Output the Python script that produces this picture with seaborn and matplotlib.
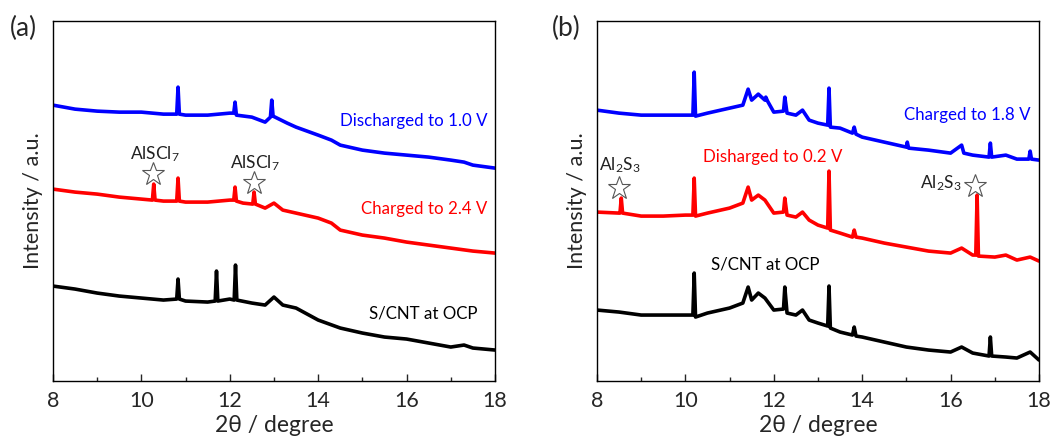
import numpy as np
import pandas as pd
import matplotlib
matplotlib.use("Agg")
import matplotlib.pyplot as plt
import seaborn as sns

sns.set_style("white")
plt.rcParams['font.family'] = ['Lato', 'DejaVu Sans']
plt.rcParams['mathtext.default'] = 'regular'

# ---------- Panel (a) ----------
a_blue_x = [8, 8.5, 9, 9.5, 10, 10.5, 10.8, 10.83, 10.86, 11, 11.5, 12, 12.09, 12.12, 12.15,
            12.5, 12.8, 12.92, 12.95, 12.98, 13.3, 13.5, 14, 14.3, 14.5, 15, 15.5, 16, 16.5, 17, 17.3, 17.5, 18]
a_blue_y = [276, 272, 270, 269, 269, 267, 267, 294, 267, 266, 266, 268, 268, 279, 266,
            264, 259, 264, 281, 265, 258, 254, 246, 241, 236, 231, 228, 226, 224, 221, 219, 216, 213]

a_red_x = [8, 8.5, 9, 9.5, 10, 10.25, 10.28, 10.31, 10.5, 10.8, 10.83, 10.86, 11, 11.5, 12, 12.09, 12.12, 12.15,
           12.3, 12.52, 12.55, 12.58, 12.8, 13.0, 13.2, 13.5, 14, 14.3, 14.5, 15, 15.5, 16, 16.5, 17, 17.5, 18]
a_red_y = [192, 189, 187, 184, 182, 181, 197, 181, 180, 180, 203, 180, 179, 179, 181, 181, 194, 180,
           178, 177, 189, 177, 173, 178, 171, 168, 163, 158, 151, 146, 143, 139, 136, 133, 130, 128]

a_black_x = [8, 8.5, 9, 9.5, 10, 10.5, 10.8, 10.83, 10.86, 11, 11.5, 11.67, 11.7, 11.73, 12, 12.1, 12.13, 12.16,
             12.5, 12.8, 13.0, 13.2, 13.5, 14, 14.5, 15, 15.5, 16, 16.5, 17, 17.3, 17.5, 18]
a_black_y = [95, 92, 88, 85, 83, 81, 82, 102, 82, 80, 79, 80, 110, 80, 82, 81, 116, 81,
             78, 76, 84, 76, 73, 61, 53, 48, 44, 42, 38, 34, 36, 33, 31]

# ---------- Panel (b) ----------
b_blue_x = [8, 8.5, 9, 9.5, 10, 10.17, 10.2, 10.23, 10.5, 11, 11.3, 11.42, 11.5, 11.65, 11.8, 11.82, 11.86, 12.0,
            12.22, 12.25, 12.3, 12.5, 12.65, 12.8, 13.0, 13.22, 13.25, 13.28, 13.5, 13.78, 13.82, 13.86, 14, 14.5,
            15, 15.02, 15.05, 15.5, 16, 16.25, 16.3, 16.5, 16.87, 16.9, 16.93, 17.25, 17.5, 17.77, 17.8, 17.83, 18]
b_blue_y = [271, 268, 266, 266, 266, 266, 309, 265, 268, 273, 276, 292, 281, 287, 281, 284, 280, 269,
            270, 284, 268, 266, 271, 261, 258, 256, 293, 254, 253, 248, 254, 247, 244, 239,
            234, 239, 233, 231, 228, 236, 228, 226, 224, 238, 224, 226, 222, 222, 230, 222, 221]

b_red_x = [8, 8.5, 8.52, 8.55, 8.58, 9, 9.5, 10, 10.17, 10.2, 10.23, 10.5, 11, 11.3, 11.42, 11.5, 11.65, 11.8, 12.0,
           12.22, 12.25, 12.3, 12.5, 12.65, 12.8, 13.0, 13.22, 13.25, 13.28, 13.5, 13.78, 13.82, 13.86, 14, 14.5,
           15, 15.5, 16, 16.25, 16.5, 16.57, 16.6, 16.63, 17, 17.25, 17.5, 17.8, 18]
b_red_y = [169, 168, 168, 183, 168, 165, 165, 166, 166, 203, 165, 168, 173, 178, 194, 181, 186, 181, 168,
           169, 183, 166, 164, 169, 161, 156, 153, 210, 151, 148, 144, 151, 144, 143, 138,
           134, 130, 128, 133, 126, 126, 186, 125, 124, 126, 121, 124, 120]

b_black_x = [8, 8.5, 9, 9.5, 10, 10.17, 10.2, 10.23, 10.5, 11, 11.3, 11.42, 11.5, 11.65, 11.8, 12.0,
             12.22, 12.25, 12.3, 12.5, 12.65, 12.8, 13.0, 13.22, 13.25, 13.28, 13.5, 13.78, 13.82, 13.86, 14, 14.5,
             15, 15.5, 16, 16.25, 16.5, 16.87, 16.9, 16.93, 17.25, 17.5, 17.8, 18]
b_black_y = [71, 69, 66, 66, 66, 66, 108, 64, 68, 73, 78, 94, 81, 88, 83, 71,
             72, 94, 68, 66, 71, 61, 58, 55, 95, 53, 49, 46, 54, 45, 44, 39,
             34, 31, 29, 34, 28, 25, 44, 25, 24, 23, 29, 21]

x_ticks = [8, 10, 12, 14, 16, 18]
x_minor = [9, 11, 13, 15, 17]

BLUE, RED, BLACK = '#0000ff', '#ff0000', '#000000'

fig = plt.figure(figsize=(10.59, 4.41), dpi=100)
axA = fig.add_axes([0.050, 0.136, 0.4174, 0.816])
axB = fig.add_axes([0.5637, 0.136, 0.4174, 0.816])

def draw(ax, series):
    for xs, ys, c in series:
        df = pd.DataFrame({'x': xs, 'y': ys})
        sns.lineplot(data=df, x='x', y='y', ax=ax, color=c, lw=2.6,
                     estimator=None, sort=False, legend=False)
    ax.set_xlim(8, 18)
    ax.set_ylim(0, 360)
    ax.set_xticks(x_ticks)
    ax.set_xticks(x_minor, minor=True)
    ax.set_yticks([])
    ax.tick_params(axis='x', which='major', direction='in', length=5, width=1,
                   labelsize=15.5, pad=7, bottom=True, top=False)
    ax.tick_params(axis='x', which='minor', direction='in', length=3, width=1, bottom=True, top=False)
    for s in ax.spines.values():
        s.set_color('black')
        s.set_linewidth(1.0)
    ax.set_xlabel('2θ / degree', fontsize=16.5, labelpad=3)
    ax.set_ylabel('Intensity / a.u.', fontsize=15.5, labelpad=7)

draw(axA, [(a_blue_x, a_blue_y, BLUE), (a_red_x, a_red_y, RED), (a_black_x, a_black_y, BLACK)])
draw(axB, [(b_blue_x, b_blue_y, BLUE), (b_red_x, b_red_y, RED), (b_black_x, b_black_y, BLACK)])

fs = 12.2
axA.text(17.82, 260, 'Discharged to 1.0 V', color=BLUE, fontsize=fs, ha='right', va='center')
axA.text(17.82, 172, 'Charged to 2.4 V', color=RED, fontsize=fs, ha='right', va='center')
axA.text(17.6, 68, 'S/CNT at OCP', color=BLACK, fontsize=fs, ha='right', va='center')
axA.text(10.31, 227, 'AlSCl$_{7}$', color='#222222', fontsize=12.5, ha='center', va='center')
axA.text(12.57, 218, 'AlSCl$_{7}$', color='#222222', fontsize=12.5, ha='center', va='center')
star_x_a = [10.26, 12.55]
star_y_a = [207, 198]
axA.plot(star_x_a, star_y_a, ls='none', marker='*', ms=17, mfc='white', mec='#555555', mew=0.8)

axB.text(17.8, 266, 'Charged to 1.8 V', color=BLUE, fontsize=fs, ha='right', va='center')
axB.text(11.98, 224, 'Disharged to 0.2 V', color=RED, fontsize=fs, ha='center', va='center')
axB.text(11.8, 117, 'S/CNT at OCP', color=BLACK, fontsize=fs, ha='center', va='center')
axB.text(8.52, 216, 'Al$_{2}$S$_{3}$', color='#222222', fontsize=12.5, ha='center', va='center')
axB.text(15.78, 198, 'Al$_{2}$S$_{3}$', color='#222222', fontsize=12.5, ha='center', va='center')
star_x_b = [8.5, 16.55]
star_y_b = [193, 195]
axB.plot(star_x_b, star_y_b, ls='none', marker='*', ms=17, mfc='white', mec='#555555', mew=0.8)

fig.text(0.0095, 0.935, '(a)', fontsize=19, ha='left', va='center')
fig.text(0.521, 0.935, '(b)', fontsize=19, ha='left', va='center')

fig.savefig('out.png', dpi=100)
